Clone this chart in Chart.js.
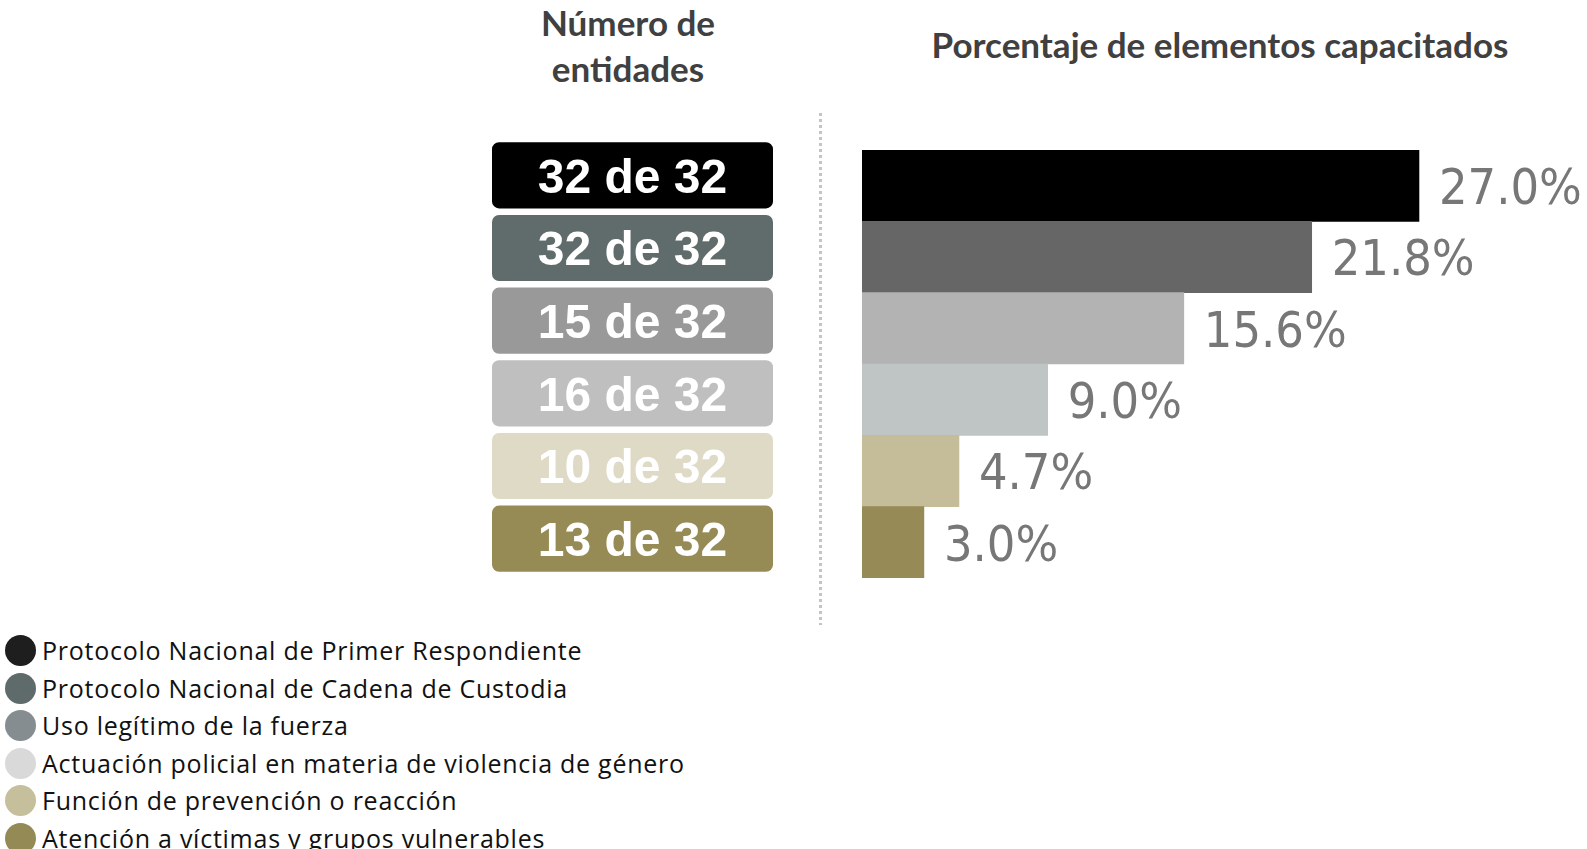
<!DOCTYPE html>
<html lang="es">
<head>
<meta charset="utf-8">
<title>Porcentaje de elementos capacitados</title>
<script src="https://cdn.jsdelivr.net/npm/chart.js@4.4.1/dist/chart.umd.min.js"></script>
<style>
	html, body {
		margin: 0;
		padding: 0;
		background: #ffffff;
	}
	body {
		position: relative;
		width: 1587px;
		height: 849px;
		overflow: hidden;
	}
	.titulo {
		position: absolute;
		font-family: Lato, "Open Sans", sans-serif;
		font-weight: bold;
		color: #404040;
		text-align: center;
		line-height: 46px;
		white-space: nowrap;
		font-size: 35px;
	}
	#tituloEntidades {
		left: 428px;
		width: 400px;
		top: -1px;
	}
	#tituloPorcentaje {
		left: 920px;
		width: 600px;
		top: 21px;
	}
	#separador {
		position: absolute;
		left: 819px;
		top: 113px;
		width: 3px;
		height: 512px;
		background: repeating-linear-gradient(to bottom, #c4c4c4 0px, #c4c4c4 3px, transparent 3px, transparent 6px);
	}
	#cajasBox {
		position: absolute;
		left: 492px;
		top: 139px;
		width: 281px;
		height: 436px;
	}
	#barrasBox {
		position: absolute;
		left: 862px;
		top: 150px;
		width: 722px;
		height: 428px;
	}
	#leyenda {
		position: absolute;
		left: 5px;
		top: 632px;
		font-family: "Open Sans", sans-serif;
		font-size: 25px;
		letter-spacing: 0.75px;
		color: #111111;
	}
	#leyenda .fila {
		display: flex;
		align-items: center;
		height: 37.5px;
		line-height: 37.5px;
		white-space: nowrap;
	}
	#leyenda .punto {
		width: 31px;
		height: 31px;
		border-radius: 50%;
		margin-right: 6px;
		flex: none;
	}
</style>
</head>
<body>
<div class="titulo" id="tituloEntidades">Número de<br>entidades</div>
<div class="titulo" id="tituloPorcentaje">Porcentaje de elementos capacitados</div>
<div id="separador"></div>
<div id="cajasBox"><canvas id="cajasChart"></canvas></div>
<div id="barrasBox"><canvas id="barrasChart"></canvas></div>
<div id="leyenda"></div>

<script>
// datos
const temas = [
	'Protocolo Nacional de Primer Respondiente',
	'Protocolo Nacional de Cadena de Custodia',
	'Uso legítimo de la fuerza',
	'Actuación policial en materia de violencia de género',
	'Función de prevención o reacción',
	'Atención a víctimas y grupos vulnerables'
];
const entidades = [32, 32, 15, 16, 10, 13];
const totalEntidades = 32;
const porcentajes = [27.0, 21.8, 15.6, 9.0, 4.7, 3.0];

// colores
const coloresCaja = ['#000000', '#606b6b', '#999999', '#bfbfbf', '#dfdac5', '#968b55'];
const coloresBarra = ['#000000', '#666666', '#b3b3b3', '#bfc4c4', '#c5bd99', '#968a57'];
const coloresLeyenda = ['#1e1e1e', '#5f6b6b', '#858d90', '#d9d9d9', '#c6bf9b', '#948a55'];

// texto "N de 32" dentro de cada caja
const textoCajas = {
	id: 'textoCajas',
	afterDatasetsDraw(chart) {
		const ctx = chart.ctx;
		const meta = chart.getDatasetMeta(0);
		ctx.save();
		ctx.font = 'bold 48px "Liberation Sans", Arial, sans-serif';
		ctx.fillStyle = '#ffffff';
		ctx.textAlign = 'center';
		ctx.textBaseline = 'alphabetic';
		meta.data.forEach((bar, i) => {
			const cx = (bar.x + bar.base) / 2;
			ctx.fillText(entidades[i] + ' de ' + totalEntidades, cx, bar.y + 48 * 0.716 / 2);
		});
		ctx.restore();
	}
};

// etiqueta de porcentaje a la derecha de cada barra
const textoBarras = {
	id: 'textoBarras',
	afterDatasetsDraw(chart) {
		const ctx = chart.ctx;
		const meta = chart.getDatasetMeta(0);
		ctx.save();
		ctx.font = '50px "DejaVu Sans Condensed", "DejaVu Sans", sans-serif';
		ctx.fillStyle = '#777777';
		ctx.textAlign = 'left';
		ctx.textBaseline = 'alphabetic';
		meta.data.forEach((bar, i) => {
			ctx.fillText(porcentajes[i].toFixed(1) + '%', bar.x + 20, bar.y + 50 * 0.729 / 2);
		});
		ctx.restore();
	}
};

function createCajas() {
	const ctx = document.getElementById('cajasChart').getContext('2d');
	new Chart(ctx, {
		type: 'bar',
		data: {
			labels: temas,
			datasets: [{
				data: entidades.map(() => totalEntidades),
				backgroundColor: coloresCaja,
				borderWidth: 0,
				borderRadius: 7,
				borderSkipped: false,
				barPercentage: 0.91,
				categoryPercentage: 1
			}]
		},
		options: {
			indexAxis: 'y',
			responsive: true,
			maintainAspectRatio: false,
			animation: false,
			layout: { padding: 0 },
			scales: {
				x: { display: false, min: 0, max: totalEntidades },
				y: { display: false }
			},
			plugins: {
				legend: { display: false },
				tooltip: { enabled: false }
			}
		},
		plugins: [textoCajas]
	});
}

function createBarras() {
	const ctx = document.getElementById('barrasChart').getContext('2d');
	new Chart(ctx, {
		type: 'bar',
		data: {
			labels: temas,
			datasets: [{
				data: porcentajes,
				backgroundColor: coloresBarra,
				borderWidth: 0,
				barPercentage: 1,
				categoryPercentage: 1
			}]
		},
		options: {
			indexAxis: 'y',
			responsive: true,
			maintainAspectRatio: false,
			animation: false,
			layout: { padding: 0 },
			scales: {
				x: { display: false, min: 0, max: 35 },
				y: { display: false }
			},
			plugins: {
				legend: { display: false },
				tooltip: { enabled: false }
			}
		},
		plugins: [textoBarras]
	});
}

function updateLeyenda() {
	const cont = document.getElementById('leyenda');
	cont.innerHTML = '';
	for (let i = 0; i < temas.length; i++) {
		const fila = document.createElement('div');
		fila.className = 'fila';
		const punto = document.createElement('span');
		punto.className = 'punto';
		punto.style.background = coloresLeyenda[i];
		const txt = document.createElement('span');
		txt.textContent = temas[i];
		fila.appendChild(punto);
		fila.appendChild(txt);
		cont.appendChild(fila);
	}
}

createCajas();
createBarras();
updateLeyenda();
</script>
</body>
</html>
